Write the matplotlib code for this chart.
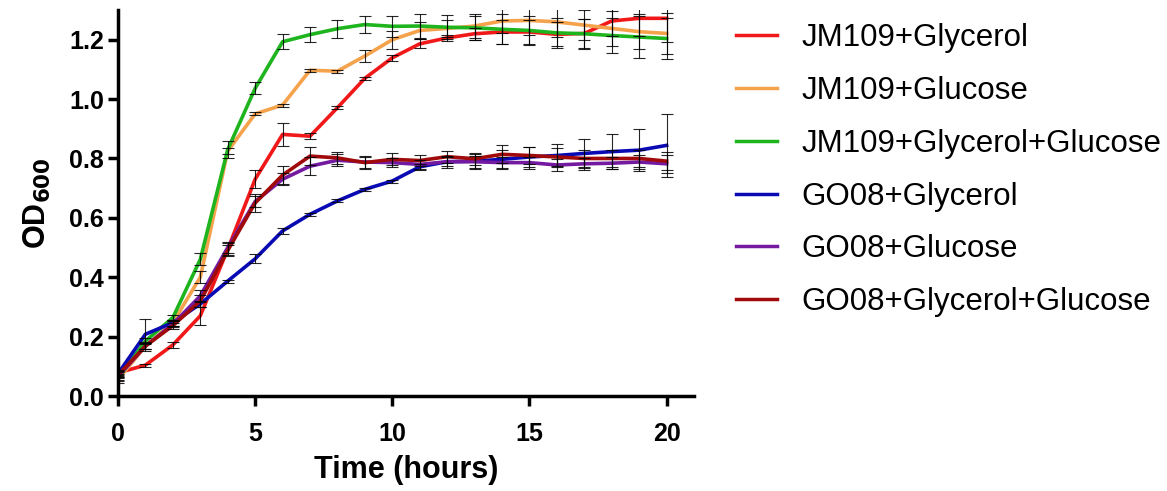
import matplotlib
matplotlib.use("Agg")
import matplotlib.pyplot as plt
import numpy as np

plt.rcParams['font.family'] = ['Liberation Sans', 'DejaVu Sans']

hours = list(range(21))
labels = ["JM109+Glycerol", "JM109+Glucose", "JM109+Glycerol+Glucose",
          "GO08+Glycerol", "GO08+Glucose", "GO08+Glycerol+Glucose"]
colors = ["#F01818", "#F5A24C", "#1EB41E", "#0A0AB4", "#741AA0", "#A00A0A"]

jm_glycerol = [0.078, 0.104, 0.172, 0.27, 0.494, 0.73, 0.881, 0.875, 0.971, 1.07, 1.139,
               1.186, 1.206, 1.22, 1.226, 1.226, 1.218, 1.221, 1.263, 1.272, 1.272]
jm_glucose = [0.055, 0.168, 0.247, 0.40, 0.825, 0.950, 0.98, 1.097, 1.094, 1.145, 1.2,
              1.231, 1.238, 1.246, 1.263, 1.265, 1.26, 1.249, 1.238, 1.227, 1.221]
jm_both = [0.06, 0.185, 0.264, 0.46, 0.83, 1.036, 1.193, 1.217, 1.237, 1.251, 1.245,
           1.246, 1.242, 1.24, 1.235, 1.231, 1.223, 1.22, 1.214, 1.209, 1.204]
go_glycerol = [0.075, 0.208, 0.247, 0.31, 0.387, 0.462, 0.556, 0.612, 0.657, 0.696, 0.724,
               0.772, 0.789, 0.791, 0.797, 0.805, 0.81, 0.817, 0.823, 0.828, 0.844]
go_glucose = [0.065, 0.168, 0.242, 0.337, 0.50, 0.655, 0.73, 0.774, 0.794, 0.788, 0.786,
              0.78, 0.789, 0.789, 0.786, 0.786, 0.778, 0.782, 0.784, 0.788, 0.782]
go_both = [0.07, 0.168, 0.237, 0.32, 0.49, 0.65, 0.744, 0.808, 0.802, 0.786, 0.797,
           0.793, 0.806, 0.799, 0.814, 0.81, 0.805, 0.80, 0.80, 0.80, 0.791]

err_jm_glycerol = [0.01, 0.005, 0.01, 0.03, 0.02, 0.03, 0.04, 0.01, 0.005, 0.005, 0.01,
                   0.015, 0.01, 0.02, 0.04, 0.04, 0.04, 0.05, 0.05, 0.06, 0.08]
err_jm_glucose = [0.01, 0.01, 0.01, 0.02, 0.01, 0.005, 0.005, 0.005, 0.005, 0.02, 0.03,
                  0.03, 0.03, 0.04, 0.04, 0.05, 0.05, 0.05, 0.06, 0.06, 0.07]
err_jm_both = [0.01, 0.01, 0.01, 0.02, 0.03, 0.02, 0.025, 0.025, 0.03, 0.03, 0.035,
               0.04, 0.04, 0.04, 0.05, 0.05, 0.05, 0.05, 0.06, 0.07, 0.07]
err_go_glycerol = [0.01, 0.05, 0.01, 0.01, 0.005, 0.015, 0.01, 0.005, 0.005, 0.005, 0.005,
                   0.01, 0.02, 0.025, 0.03, 0.035, 0.04, 0.05, 0.06, 0.07, 0.105]
err_go_glucose = [0.01, 0.01, 0.01, 0.02, 0.02, 0.02, 0.02, 0.03, 0.02, 0.02, 0.015,
                  0.015, 0.015, 0.02, 0.02, 0.02, 0.02, 0.02, 0.02, 0.025, 0.03]
err_go_both = [0.01, 0.015, 0.01, 0.02, 0.02, 0.03, 0.03, 0.03, 0.02, 0.02, 0.02,
               0.02, 0.02, 0.02, 0.03, 0.03, 0.03, 0.03, 0.03, 0.03, 0.03]

series = [jm_glycerol, jm_glucose, jm_both, go_glycerol, go_glucose, go_both]
errors = [err_jm_glycerol, err_jm_glucose, err_jm_both, err_go_glycerol, err_go_glucose, err_go_both]

fig = plt.figure(figsize=(11.67, 4.91), dpi=100)
ax = fig.add_axes([118 / 1167, 1 - 396 / 491, (694 - 118) / 1167, 386 / 491])

handles = []
for vals, errs, col, lab in zip(series, errors, colors, labels):
    h, = ax.plot(hours, vals, color=col, lw=2.6, label=lab, zorder=2)
    ax.errorbar(hours, vals, yerr=errs, fmt='none', ecolor='black', elinewidth=0.8,
                capsize=4.5, capthick=0.8, zorder=3, alpha=0.85)
    handles.append(h)

ax.set_xlim(0, 21)
ax.set_ylim(0, 1.3)
ax.set_xticks([0, 5, 10, 15, 20])
ax.set_yticks(np.arange(0, 1.21, 0.2))
ax.set_yticklabels([f"{v:.1f}" for v in np.arange(0, 1.21, 0.2)])
for s in ['top', 'right']:
    ax.spines[s].set_visible(False)
for s in ['left', 'bottom']:
    ax.spines[s].set_linewidth(2.5)
ax.tick_params(axis='both', width=2.5, length=7, labelsize=18)
ax.tick_params(axis='x', pad=12)
ax.tick_params(axis='y', pad=3)
for t in ax.get_xticklabels() + ax.get_yticklabels():
    t.set_fontweight('bold')

ax.set_xlabel("Time (hours)", fontsize=22, fontweight='bold', labelpad=6)
ax.set_ylabel(r"OD$_{\mathbf{600}}$", fontsize=22, fontweight='bold', labelpad=12)

leg = fig.legend(handles=handles, labels=labels, loc='upper left',
                 bbox_to_anchor=(708 / 1167, 1 + 5 / 491), frameon=False,
                 fontsize=22.5, handlelength=1.3, handletextpad=0.8, labelspacing=0.73)
for line in leg.get_lines():
    line.set_linewidth(2.5)

fig.savefig("out.png", dpi=100)
